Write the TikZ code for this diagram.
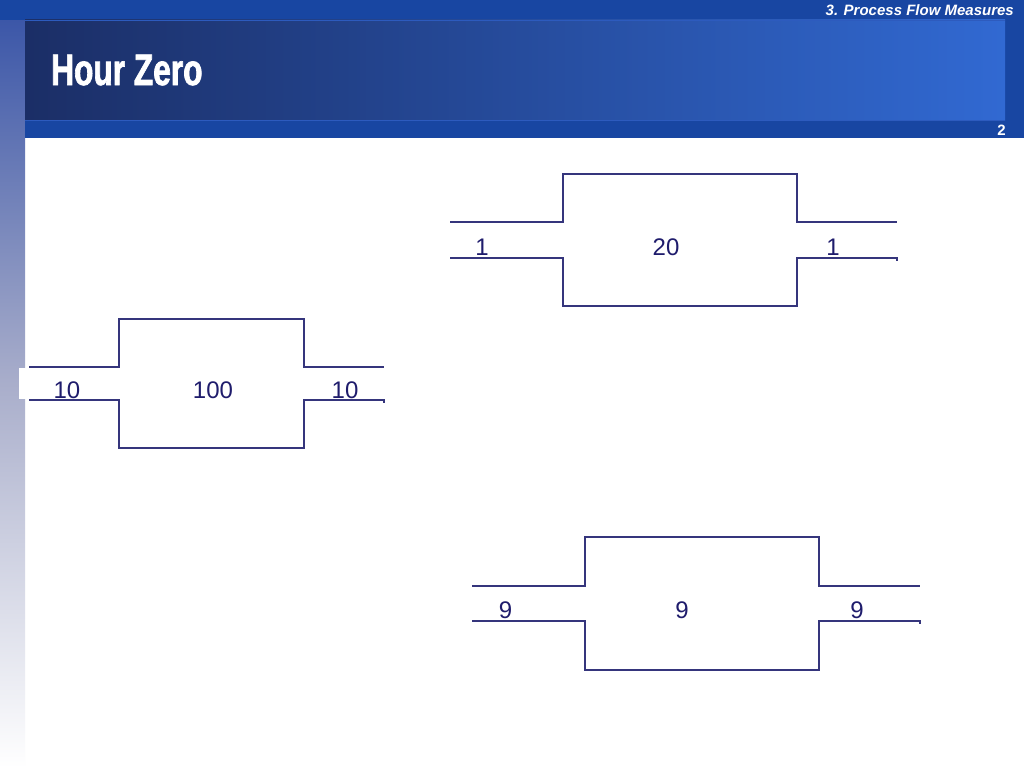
\documentclass[tikz,border=0pt]{standalone}
\usepackage{fontspec}
\setmainfont{Liberation Sans}
\newfontfamily\titlefont[FakeStretch=0.72, FakeBold=1.5]{Liberation Sans}
\definecolor{topblue}{HTML}{1846A2}
\definecolor{panelL}{HTML}{1B2E66}
\definecolor{panelR}{HTML}{3169D2}
\definecolor{panelEdge}{HTML}{2D5BBE}
\definecolor{stripTop}{HTML}{3652A6}
\definecolor{stripMid}{HTML}{A9AECB}
\definecolor{inkblue}{HTML}{1F1C6C}
\definecolor{pipeblue}{HTML}{35357C}
\tikzset{
  pipeline/.style={draw=pipeblue, line width=1.3pt},
  flowlabel/.style={text=inkblue, anchor=base, inner sep=0pt, font=\fontsize{24}{28}\selectfont},
}
% #1 pipe start x, #2 box left, #3 box right, #4 pipe end x,
% #5 box top, #6 pipe top, #7 pipe bottom, #8 box bottom
\newcommand\procshape[8]{%
  \draw[pipeline] (#1,#6) -- (#2,#6) -- (#2,#5) -- (#3,#5) -- (#3,#6) -- (#4,#6);
  \draw[pipeline] (#1,#7) -- (#2,#7) -- (#2,#8) -- (#3,#8) -- (#3,#7) -- (#4,#7) -- ++(0,3);
}
\begin{document}
\begin{tikzpicture}[x=1pt, y=-1pt]
\useasboundingbox (0,0) rectangle (1024,768);
\fill[white] (0,0) rectangle (1024,768);
% left gradient strip
\shade[top color=stripTop, bottom color=white, middle color=stripMid] (0,0) rectangle (25,768);
% header
\fill[topblue] (0,0) rectangle (1024,20);
\fill[topblue] (25,20) rectangle (1024,138);
\shade[left color=panelL, right color=panelR] (25,20) rectangle (1005,120);
\draw[panelEdge, line width=1pt] (25,20.5) -- (1005,20.5);
\draw[panelEdge, line width=1pt] (25,120) -- (1005,120);
\node[anchor=base east, inner sep=0pt, text=white, font=\bfseries\itshape\fontsize{15}{18}\selectfont] (section) at (1014,15.5) {3. Process Flow Measures};
\node[anchor=base east, inner sep=0pt, text=white, font=\bfseries\fontsize{15}{18}\selectfont] (pagenum) at (1006,135) {2};
\node[anchor=base west, inner sep=0pt, text=white, font=\titlefont\bfseries\fontsize{44}{50}\selectfont] (title) at (51,85) {Hour Zero};
% white patch behind left label of middle-left shape
\fill[white] (19,368) rectangle (60,399);
% shape A (top right)
\procshape{450}{563}{797}{897}{174}{222}{258}{306}
\node[flowlabel] (a-in) at (482,255) {1};
\node[flowlabel] (a-wip) at (666,255) {20};
\node[flowlabel] (a-out) at (833,255) {1};
% shape B (left)
\procshape{29}{119}{304}{384}{319}{367}{400}{448}
\node[flowlabel] (b-in) at (67,398.5) {10};
\node[flowlabel] (b-wip) at (213,398.5) {100};
\node[flowlabel] (b-out) at (345,398.5) {10};
% shape C (bottom)
\procshape{472}{585}{819}{920}{537}{586}{621}{670}
\node[flowlabel] (c-in) at (505.5,618) {9};
\node[flowlabel] (c-wip) at (682,618) {9};
\node[flowlabel] (c-out) at (857,618) {9};
\end{tikzpicture}
\end{document}
